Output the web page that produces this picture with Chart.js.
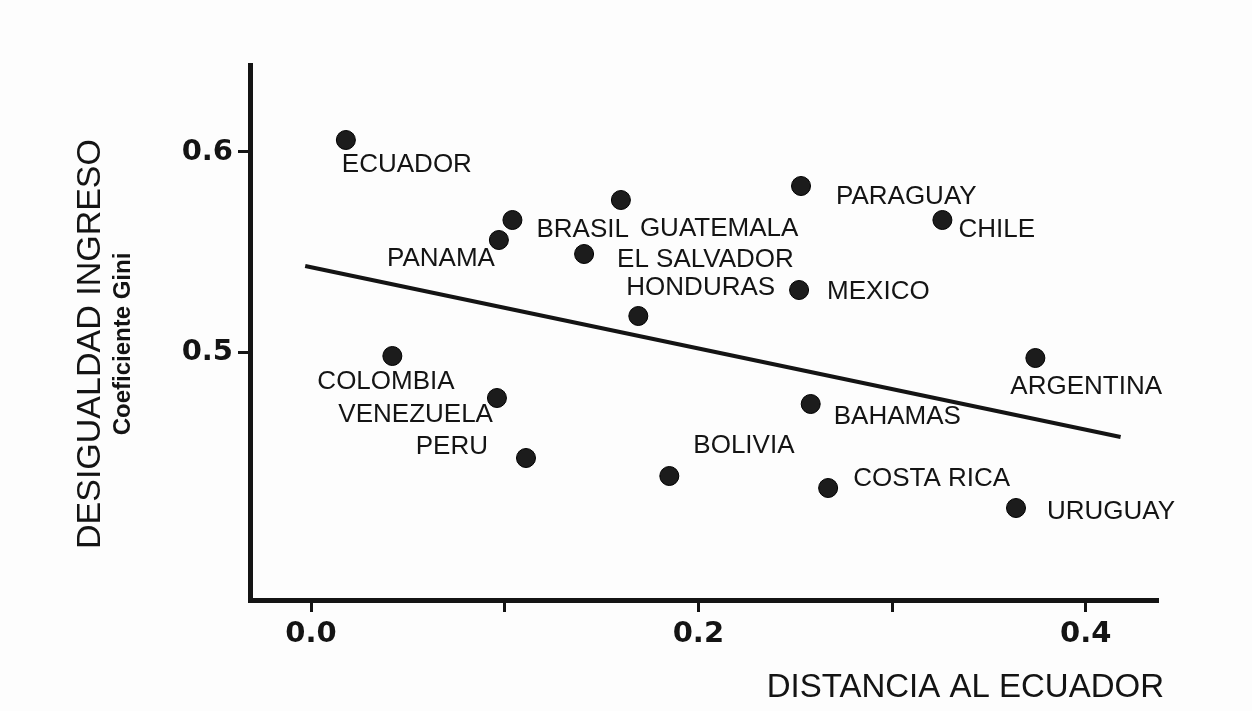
<!DOCTYPE html>
<html>
<head>
<meta charset="utf-8">
<title>Desigualdad ingreso y distancia al ecuador</title>
<script src="https://cdn.jsdelivr.net/npm/chart.js@4.4.1/dist/chart.umd.min.js"></script>
<style>
    body { margin: 0; background: #fdfdfd; }
    canvas { display: block; }
</style>
</head>
<body>
<canvas id="myChart" width="1252" height="711"></canvas>
<script>
// datos
var paises = ["ECUADOR", "BRASIL", "PANAMA", "GUATEMALA", "EL SALVADOR", "HONDURAS",
    "PARAGUAY", "CHILE", "MEXICO", "ARGENTINA", "BAHAMAS", "COSTA RICA", "URUGUAY",
    "COLOMBIA", "VENEZUELA", "PERU", "BOLIVIA"];
var distancia = [0.018, 0.104, 0.097, 0.160, 0.141, 0.169,
    0.253, 0.326, 0.252, 0.374, 0.258, 0.267, 0.364,
    0.042, 0.096, 0.111, 0.185];
var gini = [0.606, 0.566, 0.556, 0.576, 0.549, 0.518,
    0.583, 0.566, 0.531, 0.497, 0.474, 0.432, 0.422,
    0.498, 0.477, 0.447, 0.438];

// recta de regresion (extremos)
var rectaX = [-0.003, 0.418];
var rectaY = [0.543, 0.4575];

var xTicks = [0.0, 0.1, 0.2, 0.3, 0.4];
var xTickLabels = ["0.0", "", "0.2", "", "0.4"];
var yTicks = [0.5, 0.6];
var yTickLabels = ["0.5", "0.6"];

// posicion de cada etiqueta respecto a su punto: dx, dy, alineacion
var labelPos = [
    [-4, 25, "left"], [24, 10, "left"], [-4, 19, "right"], [19, 29, "left"],
    [33, 6, "left"], [-12, -28, "left"], [35, 11, "left"], [16, 10, "left"],
    [28, 2, "left"], [-25, 29, "left"], [23, 13, "left"], [25, -9, "left"],
    [31, 4, "left"], [-75, 26, "left"], [-4, 17, "right"], [-38, -11, "right"],
    [24, -30, "left"]
];

var puntos = [];
for (var i = 0; i < paises.length; i++) {
    puntos.push({x: distancia[i], y: gini[i]});
}
var recta = [{x: rectaX[0], y: rectaY[0]}, {x: rectaX[1], y: rectaY[1]}];

var ink = "#141414";

var etiquetas = {
    id: "etiquetas",
    afterDatasetsDraw: function (chart) {
        var ctx = chart.ctx;
        var meta = chart.getDatasetMeta(1);
        ctx.save();
        ctx.fillStyle = ink;
        ctx.font = '26px "Liberation Sans", Arial, sans-serif';
        ctx.textBaseline = "middle";
        meta.data.forEach(function (pt, i) {
            ctx.textAlign = labelPos[i][2];
            ctx.fillText(paises[i], pt.x + labelPos[i][0], pt.y + labelPos[i][1]);
        });
        ctx.restore();
    },
    afterDraw: function (chart) {
        var ctx = chart.ctx;
        ctx.save();
        ctx.fillStyle = ink;
        ctx.textBaseline = "middle";
        // titulo eje x
        ctx.textAlign = "right";
        ctx.font = '33px "Liberation Sans", Arial, sans-serif';
        ctx.fillText("DISTANCIA AL ECUADOR", 1164, 688);
        // titulos eje y
        ctx.translate(91, 344);
        ctx.rotate(-Math.PI / 2);
        ctx.textAlign = "center";
        ctx.font = '34px "Liberation Sans", Arial, sans-serif';
        ctx.fillText("DESIGUALDAD INGRESO", 0, 0);
        ctx.font = 'bold 24px "Liberation Sans", Arial, sans-serif';
        ctx.fillText("Coeficiente Gini", 0, 32);
        ctx.restore();
    }
};

var ctx = document.getElementById("myChart").getContext("2d");
var chart = new Chart(ctx, {
    type: "scatter",
    data: {
        datasets: [{
                data: recta,
                showLine: true,
                borderColor: ink,
                borderWidth: 4,
                pointRadius: 0
            }, {
                data: puntos,
                backgroundColor: "#1c1c1c",
                borderColor: "#000",
                borderWidth: 1,
                pointRadius: 9.5
            }]
    },
    plugins: [etiquetas],
    options: {
        responsive: false,
        animation: false,
        devicePixelRatio: 1,
        layout: {padding: {left: 0, top: 65, right: 95, bottom: 0}},
        plugins: {
            legend: {display: false},
            tooltip: {enabled: false}
        },
        scales: {
            x: {
                type: "linear",
                min: -0.0315,
                max: 0.4368,
                afterBuildTicks: function (axis) {
                    axis.ticks = xTicks.map(function (v) { return {value: v}; });
                },
                afterFit: function (scale) { scale.height = 111; },
                ticks: {
                    autoSkip: false,
                    maxRotation: 0,
                    padding: 5,
                    color: ink,
                    font: {family: "DejaVu Sans", weight: "bold", size: 29},
                    callback: function (v, i) { return xTickLabels[i]; }
                },
                grid: {drawOnChartArea: false, drawTicks: true, tickLength: 12, color: ink, lineWidth: 3},
                border: {color: ink, width: 5}
            },
            y: {
                type: "linear",
                min: 0.376,
                max: 0.6435,
                afterBuildTicks: function (axis) {
                    axis.ticks = yTicks.map(function (v) { return {value: v}; });
                },
                afterFit: function (scale) { scale.width = 250; },
                ticks: {
                    padding: 5,
                    color: ink,
                    font: {family: "DejaVu Sans", weight: "bold", size: 29},
                    callback: function (v, i) { return yTickLabels[i]; }
                },
                grid: {drawOnChartArea: false, drawTicks: true, tickLength: 12, color: ink, lineWidth: 3},
                border: {color: ink, width: 5}
            }
        }
    }
});
</script>
</body>
</html>
